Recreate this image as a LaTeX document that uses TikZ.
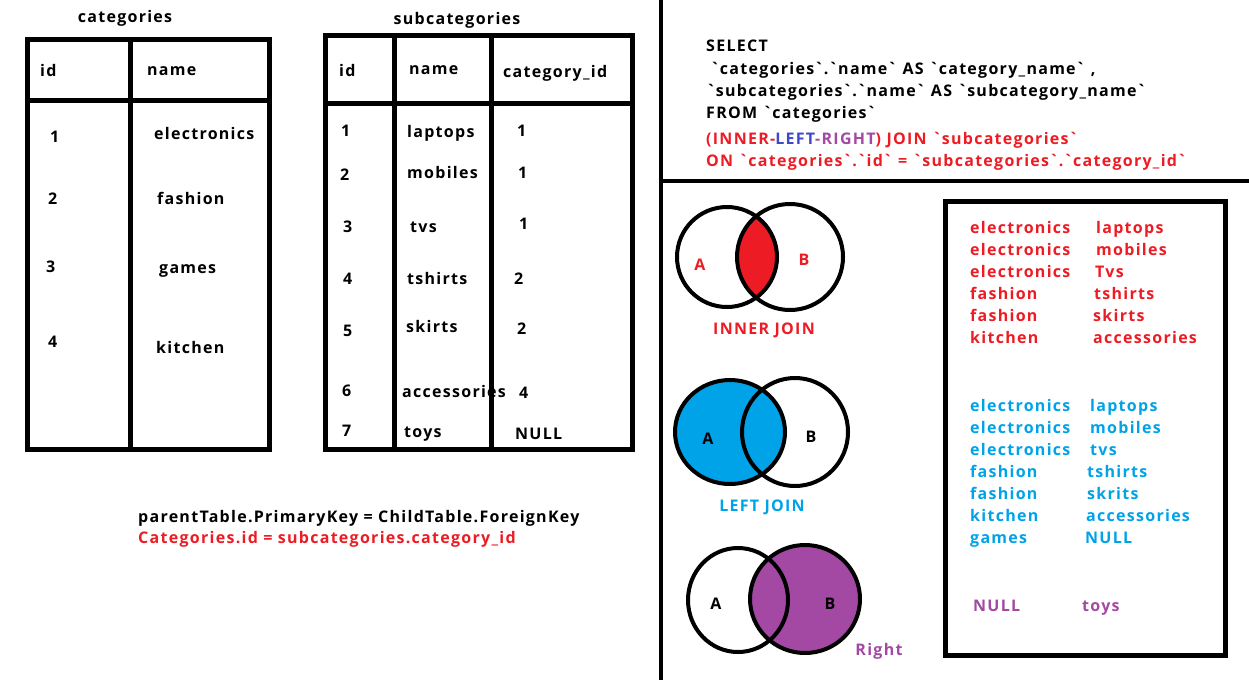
\documentclass[tikz,border=0pt]{standalone}
\usepackage{fontspec}
\setmainfont{Open Sans}[LetterSpace=8]
\usepackage{tikz}

\definecolor{joinred}{HTML}{ED1C24}
\definecolor{joinblue}{HTML}{00A2E8}
\definecolor{joinpurple}{HTML}{A349A4}
\definecolor{joinindigo}{HTML}{3F48CC}
\newcommand{\bq}{\textasciigrave}

\tikzset{
  txt/.style={anchor=west, inner sep=0pt, yshift=-1.5pt, font=\bfseries\fontsize{16}{19}\selectfont, text height=12pt, text depth=3pt},
  tbl/.style={line width=5pt},
  venn/.style={line width=4pt},
}

\begin{document}
\begin{tikzpicture}[x=1pt,y=-1pt]
\useasboundingbox (0,0) rectangle (1249,680);

			% Tabla categories
			\draw[tbl] (27.5,39) rectangle (269,449);
			\draw[tbl] (27.5,100) -- (269,100);
			\draw[tbl] (130,39) -- (130,449);
			\node[txt, anchor=center] (catTitle) at (125,17) {categories};
			\node[txt] (catId) at (40,70) {id};
			\node[txt] (catName) at (147,69) {name};
			\node[txt] (catId1) at (50,136) {1};
			\node[txt] (catName1) at (154,133) {electronics};
			\node[txt] (catId2) at (48,198) {2};
			\node[txt] (catName2) at (157,198) {fashion};
			\node[txt] (catId3) at (46,266) {3};
			\node[txt] (catName3) at (159,267) {games};
			\node[txt] (catId4) at (48,341) {4};
			\node[txt] (catName4) at (156,347) {kitchen};

			% Tabla subcategories
			\draw[tbl] (325,35.5) rectangle (632,449.5);
			\draw[tbl] (325,103) -- (632,103);
			\draw[tbl] (394,35.5) -- (394,449.5);
			\draw[tbl] (491,35.5) -- (491,449.5);
			\node[txt, anchor=center] (subTitle) at (457,18) {subcategories};
			\node[txt] (subId) at (339,70) {id};
			\node[txt] (subName) at (409,68) {name};
			\node[txt] (subCat) at (503,71) {category\_id};
			\node[txt] (subId1) at (341,130) {1};
			\node[txt] (subName1) at (407,131) {laptops};
			\node[txt] (subCat1) at (517,130) {1};
			\node[txt] (subId2) at (340,174) {2};
			\node[txt] (subName2) at (407,172) {mobiles};
			\node[txt] (subCat2) at (518,172) {1};
			\node[txt] (subId3) at (343,226) {3};
			\node[txt] (subName3) at (410,226) {tvs};
			\node[txt] (subCat3) at (519,223) {1};
			\node[txt] (subId4) at (343,278) {4};
			\node[txt] (subName4) at (407,278) {tshirts};
			\node[txt] (subCat4) at (514,278) {2};
			\node[txt] (subId5) at (343,330) {5};
			\node[txt] (subName5) at (406,326) {skirts};
			\node[txt] (subCat5) at (517,328) {2};
			\node[txt] (subId6) at (342,390) {6};
			\node[txt] (subName6) at (402,391) {accessories};
			\node[txt] (subCat6) at (519,392) {4};
			\node[txt] (subId7) at (342,430) {7};
			\node[txt] (subName7) at (404,431) {toys};
			\node[txt] (subCat7) at (515,433) {NULL};

			% Relacion de llaves
			\node[txt] (keyRule) at (138,516) {parentTable.PrimaryKey = ChildTable.ForeignKey};
			\node[txt, text=joinred] (keyCase) at (138,537) {Categories.id = subcategories.category\_id};

			% Separadores
			\draw[line width=4pt] (661,0) -- (661,680);
			\draw[line width=4pt] (661,181) -- (1249,181);

			% Consulta SQL
			\node[txt] (sql1) at (706,45) {SELECT};
			\node[txt] (sql2) at (710,68) {\bq categories\bq.\bq name\bq{} AS \bq category\_name\bq{} ,};
			\node[txt] (sql3) at (706,90) {\bq subcategories\bq.\bq name\bq{} AS \bq subcategory\_name\bq};
			\node[txt] (sql4) at (706,112) {FROM \bq categories\bq};
			\node[txt, text=joinred] (sql5) at (706,138) {(INNER-\textcolor{joinindigo}{LEFT}\textcolor{joinpurple}{-RIGHT}) JOIN \bq subcategories\bq};
			\node[txt, text=joinred] (sql6) at (706,160) {ON \bq categories\bq.\bq id\bq{} = \bq subcategories\bq.\bq category\_id\bq};

			% Diagrama INNER JOIN
			\coordinate (innerA) at (727,257);
			\coordinate (innerB) at (790,257);
			\begin{scope}
				\clip (innerA) ellipse [x radius=50, y radius=50];
				\fill[joinred] (innerB) ellipse [x radius=53, y radius=53];
			\end{scope}
			\draw[venn] (innerA) ellipse [x radius=50, y radius=50];
			\draw[venn] (innerB) ellipse [x radius=53, y radius=53];
			\node[txt, anchor=center, text=joinred] (innerLabelA) at (700,264) {A};
			\node[txt, anchor=center, text=joinred] (innerLabelB) at (804,259) {B};
			\node[txt, anchor=center, text=joinred] (innerTitle) at (764,328) {INNER JOIN};

			% Diagrama LEFT JOIN
			\coordinate (leftA) at (730,432);
			\coordinate (leftB) at (795,432);
			\fill[joinblue] (leftA) ellipse [x radius=55, y radius=52];
			\draw[venn] (leftA) ellipse [x radius=55, y radius=52];
			\draw[venn] (leftB) ellipse [x radius=53, y radius=54];
			\node[txt, anchor=center] (leftLabelA) at (708,438) {A};
			\node[txt, anchor=center] (leftLabelB) at (811,436) {B};
			\node[txt, anchor=center, text=joinblue] (leftTitle) at (762,505) {LEFT JOIN};

			% Diagrama RIGHT JOIN
			\coordinate (rightA) at (738,600);
			\coordinate (rightB) at (805,599);
			\fill[joinpurple] (rightB) ellipse [x radius=55, y radius=54];
			\draw[venn] (rightA) ellipse [x radius=50, y radius=52];
			\draw[venn] (rightB) ellipse [x radius=55, y radius=54];
			\node[txt, anchor=center] (rightLabelA) at (716,603) {A};
			\node[txt, anchor=center] (rightLabelB) at (830,603) {B};
			\node[txt, anchor=center, text=joinpurple] (rightTitle) at (879,649) {Right};

			% Resultados
			\draw[tbl] (945,201) rectangle (1225,655);
			\node[txt, text=joinred] (innerL1) at (970,227) {electronics};
			\node[txt, text=joinred] (innerR1) at (1096,227) {laptops};
			\node[txt, text=joinred] (innerL2) at (970,249) {electronics};
			\node[txt, text=joinred] (innerR2) at (1096,249) {mobiles};
			\node[txt, text=joinred] (innerL3) at (970,271) {electronics};
			\node[txt, text=joinred] (innerR3) at (1095,271) {Tvs};
			\node[txt, text=joinred] (innerL4) at (970,293) {fashion};
			\node[txt, text=joinred] (innerR4) at (1094,293) {tshirts};
			\node[txt, text=joinred] (innerL5) at (970,315) {fashion};
			\node[txt, text=joinred] (innerR5) at (1093,315) {skirts};
			\node[txt, text=joinred] (innerL6) at (970,337) {kitchen};
			\node[txt, text=joinred] (innerR6) at (1093,337) {accessories};

			\node[txt, text=joinblue] (leftL1) at (970,405) {electronics};
			\node[txt, text=joinblue] (leftR1) at (1090,405) {laptops};
			\node[txt, text=joinblue] (leftL2) at (970,427) {electronics};
			\node[txt, text=joinblue] (leftR2) at (1090,427) {mobiles};
			\node[txt, text=joinblue] (leftL3) at (970,449) {electronics};
			\node[txt, text=joinblue] (leftR3) at (1090,449) {tvs};
			\node[txt, text=joinblue] (leftL4) at (970,471) {fashion};
			\node[txt, text=joinblue] (leftR4) at (1087,471) {tshirts};
			\node[txt, text=joinblue] (leftL5) at (970,493) {fashion};
			\node[txt, text=joinblue] (leftR5) at (1087,493) {skrits};
			\node[txt, text=joinblue] (leftL6) at (970,515) {kitchen};
			\node[txt, text=joinblue] (leftR6) at (1086,515) {accessories};
			\node[txt, text=joinblue] (leftL7) at (970,537) {games};
			\node[txt, text=joinblue] (leftR7) at (1085,537) {NULL};

			\node[txt, text=joinpurple] (rightL1) at (973,605) {NULL};
			\node[txt, text=joinpurple] (rightR1) at (1082,605) {toys};

\end{tikzpicture}
\end{document}
